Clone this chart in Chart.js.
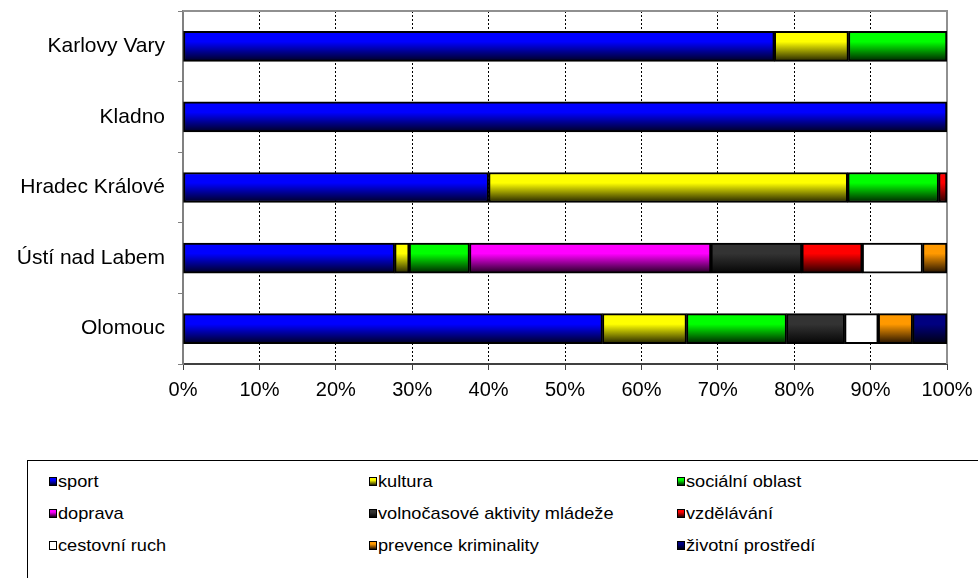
<!DOCTYPE html>
<html>
<head>
<meta charset="utf-8">
<script src="https://cdn.jsdelivr.net/npm/chart.js@4"></script>
<style>
html, body { margin: 0; background: #fff; overflow: hidden; font-family: "Liberation Sans", Arial, sans-serif; }
#wrap { position: absolute; left: 0; top: 0; width: 978px; height: 410px; }
#legend { position: absolute; left: 27px; top: 460px; width: 960px; height: 130px; border: 1px solid #000; box-sizing: border-box; }
.item { position: absolute; font-size: 17px; line-height: 18px; color: #000; white-space: nowrap; }
.box { position: absolute; left: 0; top: 4px; width: 6px; height: 7px; border: 1px solid #000; }
.txt { position: absolute; left: 9px; top: 0; display: inline-block; transform: scaleX(1.07); transform-origin: 0 0; }
</style>
</head>
<body>
<div id="wrap"><canvas id="chart"></canvas></div>
<div id="legend"></div>
<script>
var categories = ['Karlovy Vary', 'Kladno', 'Hradec Králové', 'Ústí nad Labem', 'Olomouc'];
var xTicks = [0, 10, 20, 30, 40, 50, 60, 70, 80, 90, 100];

var seriesNames = ['sport', 'kultura', 'sociální oblast', 'doprava', 'volnočasové aktivity mládeže',
  'vzdělávání', 'cestovní ruch', 'prevence kriminality', 'životní prostředí'];

var sport      = [77.4, 100, 40.0, 27.7, 54.9];
var kultura    = [9.7, null, 47.0, 1.9, 11.0];
var socialni   = [12.9, null, 11.9, 7.9, 13.1];
var doprava    = [null, null, null, 31.6, null];
var volnocas   = [null, null, null, 11.9, 7.6];
var vzdelavani = [null, null, 1.1, 7.9, null];
var cestovni   = [null, null, null, 7.9, 4.4];
var prevence   = [null, null, null, 3.2, 4.5];
var zivotni    = [null, null, null, null, 4.5];

var seriesData = [sport, kultura, socialni, doprava, volnocas, vzdelavani, cestovni, prevence, zivotni];
var colors = ['#0000ff', '#ffff00', '#00ff00', '#ff00ff', '#333333', '#ff0000', '#ffffff', '#ff9900', '#000080'];
var darks  = ['#000022', '#222200', '#002200', '#220022', '#050505', '#220000', '#ffffff', '#221100', '#000010'];

var BAR = 30;

function grad(color, dark) {
  return function(ctx) {
    var chart = ctx.chart;
    if (!chart.chartArea || ctx.dataIndex === undefined || !chart.scales.y) return color;
    var y = chart.scales.y.getPixelForValue(ctx.dataIndex);
    var g = chart.ctx.createLinearGradient(0, y - BAR / 2, 0, y + BAR / 2);
    g.addColorStop(0, color);
    g.addColorStop(0.35, color);
    g.addColorStop(1, dark);
    return g;
  };
}

var datasets = [];
for (var i = 0; i < seriesNames.length; i++) {
  datasets.push({
    label: seriesNames[i],
    data: seriesData[i],
    backgroundColor: grad(colors[i], darks[i]),
    borderColor: '#000',
    borderWidth: 2,
    borderSkipped: false,
    barThickness: BAR
  });
}

// grey top and right edge of the plot area
var frame = {
  id: 'frame',
  beforeDatasetsDraw: function(chart) {
    var a = chart.chartArea, c = chart.ctx;
    c.save();
    c.strokeStyle = '#909090';
    c.lineWidth = 2;
    c.beginPath();
    c.moveTo(a.left, a.top);
    c.lineTo(a.right, a.top);
    c.lineTo(a.right, a.bottom);
    c.stroke();
    c.restore();
  }
};

new Chart(document.getElementById('chart'), {
  type: 'bar',
  data: { labels: categories, datasets: datasets },
  plugins: [frame],
  options: {
    indexAxis: 'y',
    responsive: true,
    maintainAspectRatio: false,
    animation: false,
    layout: { padding: { top: 11, right: 31, left: 0, bottom: 0 } },
    plugins: { legend: { display: false }, tooltip: { enabled: false } },
    scales: {
      x: {
        stacked: true,
        min: 0,
        max: 100,
        afterBuildTicks: function(scale) {
          scale.ticks = xTicks.map(function(v) { return { value: v }; });
        },
        afterFit: function(scale) {
          scale.height = 46;
          scale.paddingLeft = 0;
          scale.paddingRight = 0;
        },
        grid: { color: '#000', lineWidth: 1, drawTicks: true, tickLength: 6, tickColor: '#404040', tickBorderDash: [] },
        border: { display: true, color: '#404040', width: 2, dash: [2, 2] },
        ticks: {
          color: '#000',
          font: { family: 'Liberation Sans', size: 20 },
          padding: 8,
          maxRotation: 0,
          callback: function(v) { return v + '%'; }
        }
      },
      y: {
        stacked: true,
        afterFit: function(scale) {
          scale.width = 183;
          scale.paddingTop = 0;
          scale.paddingBottom = 0;
        },
        grid: { drawOnChartArea: false, drawTicks: true, tickLength: 5, color: '#808080', lineWidth: 1 },
        border: { display: true, color: '#808080', width: 2 },
        ticks: {
          color: '#000',
          font: { family: 'Liberation Sans', size: 21 },
          padding: 13
        }
      }
    }
  }
});

// legend in three columns
var legend = document.getElementById('legend');
var colX = [21, 341, 649];
var rowY = [12, 44, 76];
for (var k = 0; k < seriesNames.length; k++) {
  var el = document.createElement('div');
  el.className = 'item';
  el.style.left = colX[k % 3] + 'px';
  el.style.top = rowY[Math.floor(k / 3)] + 'px';
  var b = document.createElement('span');
  b.className = 'box';
  b.style.background = colors[k] === '#ffffff' ? '#fff' : 'linear-gradient(' + colors[k] + ' 30%, ' + darks[k] + ')';
  var t = document.createElement('span');
  t.className = 'txt';
  t.textContent = seriesNames[k];
  el.appendChild(b);
  el.appendChild(t);
  legend.appendChild(el);
}
</script>
</body>
</html>
